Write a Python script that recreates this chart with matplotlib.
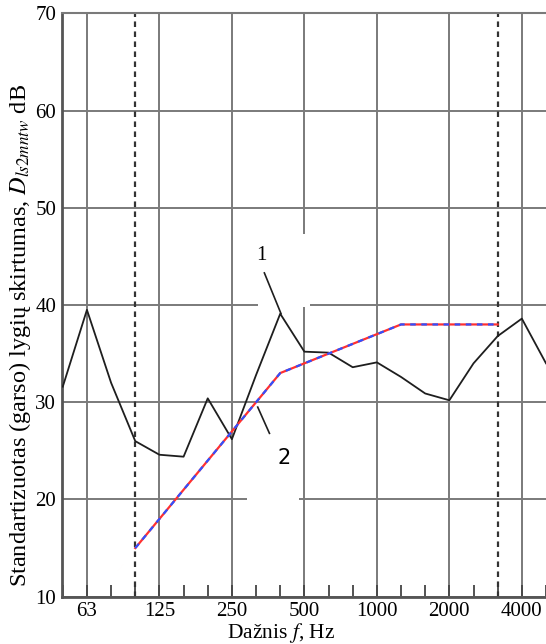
import numpy as np
import matplotlib
matplotlib.use("Agg")
import matplotlib.pyplot as plt
from matplotlib.patches import Rectangle

plt.rcParams['font.family'] = ['Liberation Serif', 'DejaVu Serif']
plt.rcParams['mathtext.fontset'] = 'stix'

# 1/3 octave band centre frequencies (nominal), Hz
bands = [50, 63, 80, 100, 125, 160, 200, 250, 315, 400, 500, 630, 800,
         1000, 1250, 1600, 2000, 2500, 3150, 4000, 5000]
# curve 1: measured standardized level difference, dB
measured = [31.6, 39.5, 32.0, 26.0, 24.6, 24.4, 30.4, 26.2, 32.8, 39.1, 35.2,
            35.1, 33.6, 34.1, 32.6, 30.9, 30.2, 34.0, 36.8, 38.6, 34.0]
# curve 2: shifted reference curve, 100..3150 Hz
ref_bands = [100, 125, 160, 200, 250, 315, 400, 500, 630, 800, 1000, 1250,
             1600, 2000, 2500, 3150]
reference = [15, 18, 21, 24, 27, 30, 33, 34, 35, 36, 37, 38, 38, 38, 38, 38]

octave_labels = [63, 125, 250, 500, 1000, 2000, 4000]
y_ticks = [10, 20, 30, 40, 50, 60, 70]
limits = [100, 3150]


def exact(f):
    # exact base-2 third-octave centre for a nominal band
    f = np.asarray(f, dtype=float)
    return 1000 * 2 ** (np.round(3 * np.log2(f / 1000)) / 3)


fig = plt.figure(figsize=(5.46, 6.44), dpi=100)
ax = fig.add_axes([61.7 / 546, 1 - 596.7 / 644, 1 - 61.7 / 546, (596.7 - 13.3) / 644])
ax.set_xscale('log', base=2)
ax.set_xlim(49.1, 4882)
ax.set_ylim(10, 70)
ax.set_axisbelow(True)

grid_c = '#7a7a7a'
ax.set_xticks(exact(octave_labels))
ax.set_xticklabels([str(v) for v in octave_labels])
ax.set_xticks(exact(bands), minor=True)
ax.xaxis.set_minor_formatter(plt.NullFormatter())
ax.set_yticks(y_ticks)
ax.tick_params(axis='x', which='both', direction='in', length=9, width=1.3,
               color='#444444', labelsize=15, pad=4)
ax.tick_params(axis='y', length=0, labelsize=15, pad=4)
ax.grid(True, which='major', color=grid_c, lw=1.4)

for side in ['left', 'bottom']:
    ax.spines[side].set_color('#555555')
    ax.spines[side].set_linewidth(2)
ax.spines['top'].set_color(grid_c)
ax.spines['top'].set_linewidth(1.5)
ax.spines['right'].set_visible(False)

# white label boxes that break the grid
ax.add_patch(Rectangle((320.5, 39.77), 529 - 320.5, 47.3 - 39.77,
                       facecolor='white', edgecolor='none', zorder=1.5))
ax.add_patch(Rectangle((290, 19.4), 476 - 290, 28.2 - 19.4,
                       facecolor='white', edgecolor='none', zorder=1.5))

for f in exact(limits):
    ax.axvline(f, color='#333333', lw=1.6, ls=(0, (2.5, 2)), zorder=2)

ax.plot(exact(bands), measured, color='#1e1e1e', lw=1.3, zorder=3)
ax.plot(exact(ref_bands), reference, color='#ff3030', lw=1.6, zorder=3)
ax.plot(exact(ref_bands), reference, color='#3050ff', lw=1.6, zorder=3.1,
        dashes=(2.5, 2.5))

# curve labels with leader lines
ax.plot([341, 400], [43.3, 39.1], color='#1e1e1e', lw=1.2, zorder=3)
ax.text(331, 45.1, '1', fontsize=15, ha='center', va='center')
ax.plot([320, 358], [29.5, 26.8], color='#1e1e1e', lw=1.2, zorder=3)
ax.text(413, 24.3, '2', fontsize=15, ha='center', va='center',
        family=['DejaVu Sans'])

fig.text(20 / 546, 1 - 335 / 644,
         'Standartizuotas (garso) lygių skirtumas, $D_{ls2mntw}$ dB',
         rotation=90, ha='center', va='center', fontsize=17.5)
fig.text(281 / 546, 1 - 633 / 644, 'Dažnis $f$, Hz', ha='center', va='center',
         fontsize=15.5)

fig.savefig('out.png', dpi=100)
